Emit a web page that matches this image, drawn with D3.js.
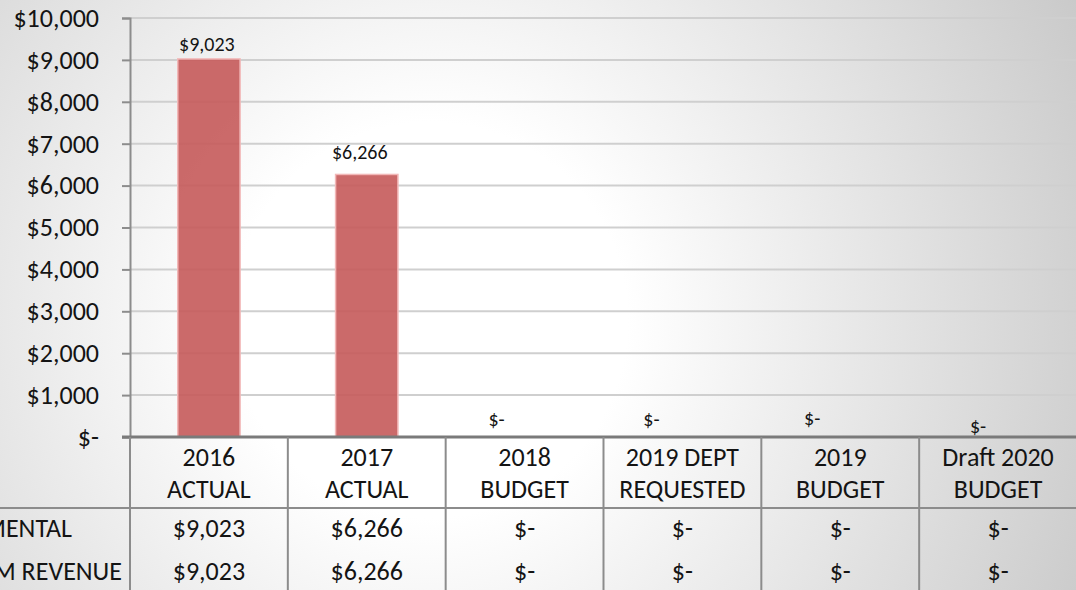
<!DOCTYPE html>
<html>
<head>
<meta charset="utf-8">
<script src="https://cdn.jsdelivr.net/npm/d3@7"></script>
<style>
  body { margin: 0; overflow: hidden; }
  text { font-family: Carlito, "Open Sans", sans-serif; fill: #141414; }
</style>
</head>
<body>
<div id="chart"></div>
<script>
// chart data
const categories = ["2016 ACTUAL", "2017 ACTUAL", "2018 BUDGET", "2019 DEPT REQUESTED", "2019 BUDGET", "Draft 2020 BUDGET"];
const headerLines = [["2016", "ACTUAL"], ["2017", "ACTUAL"], ["2018", "BUDGET"], ["2019 DEPT", "REQUESTED"], ["2019", "BUDGET"], ["Draft 2020", "BUDGET"]];
const intergov = [9023, 6266, 0, 0, 0, 0];
const totalRevenue = [9023, 6266, 0, 0, 0, 0];
const rowLabels = ["INTERGOVERNMENTAL", "TOTAL PROGRAM REVENUE"];
const yTicks = [0, 1000, 2000, 3000, 4000, 5000, 6000, 7000, 8000, 9000, 10000];

// little nudges for the value labels, the way excel put them
const labelNudge = [[-2, 0], [-7, -7], [-28, -3], [-31, -3], [-28, -4], [-20, 4]];

const width = 1076;
const height = 590;
const margin = {left: 130, top: 18, right: -1, bottom: 153};
const plotBottom = height - margin.bottom;
const fontFam = 'Carlito, "Open Sans", sans-serif';
const bigFont = 26;

const money = v => v === 0 ? "$-" : "$" + d3.format(",")(v);

const svg = d3.select("#chart")
    .append("svg")
    .attr("width", width)
    .attr("height", height);

// soft radial background
const grad = svg.append("defs").append("radialGradient")
    .attr("id", "bg")
    .attr("gradientUnits", "userSpaceOnUse")
    .attr("cx", 430).attr("cy", 320).attr("r", 760);
grad.append("stop").attr("offset", 0.26).attr("stop-color", "#ffffff");
grad.append("stop").attr("offset", 1).attr("stop-color", "#c6c6c6");

svg.append("rect")
    .attr("width", width)
    .attr("height", height)
    .attr("fill", "url(#bg)");

const x = d3.scaleBand()
    .domain(categories)
    .range([margin.left, width - margin.right])
    .paddingInner(0.605)
    .paddingOuter(0.3025);

const y = d3.scaleLinear()
    .domain([0, 10000])
    .range([plotBottom, margin.top]);

// gridlines
svg.append("g")
    .selectAll("line")
    .data(yTicks.filter(t => t > 0))
    .enter().append("line")
    .attr("x1", margin.left)
    .attr("x2", width)
    .attr("y1", d => y(d))
    .attr("y2", d => y(d))
    .attr("stroke", "#cfcfcf")
    .attr("stroke-width", 2);

// y axis
const yAxis = svg.append("g")
    .attr("transform", `translate(${margin.left},0)`)
    .call(d3.axisLeft(y).tickValues(yTicks).tickFormat(money).tickSize(8).tickPadding(23));
yAxis.select(".domain").attr("stroke", "#8c8c8c").attr("stroke-width", 2);
yAxis.selectAll(".tick line").attr("stroke", "#8c8c8c").attr("stroke-width", 2);
yAxis.selectAll(".tick text")
    .attr("font-size", bigFont)
    .attr("font-family", fontFam)
    .attr("fill", "#141414");

// bars
svg.append("g")
    .selectAll("rect")
    .data(intergov)
    .enter().append("rect")
    .attr("x", (d, i) => x(categories[i]))
    .attr("width", x.bandwidth())
    .attr("y", d => y(d))
    .attr("height", d => plotBottom - y(d))
    .attr("fill", "#c55a5a")
    .attr("fill-opacity", 0.9)
    .attr("stroke", "#f2b8b8")
    .attr("stroke-width", 1.5);

// value labels
svg.append("g")
    .selectAll("text")
    .data(intergov)
    .enter().append("text")
    .attr("x", (d, i) => x(categories[i]) + x.bandwidth() / 2 + labelNudge[i][0])
    .attr("y", (d, i) => y(d) - 8 + labelNudge[i][1])
    .attr("text-anchor", "middle")
    .attr("font-size", 20)
    .text(money);

// data table
const step = x.step();
const table = svg.append("g");

// baseline
table.append("line")
    .attr("x1", margin.left - 8).attr("x2", width)
    .attr("y1", plotBottom).attr("y2", plotBottom)
    .attr("stroke", "#7a7a7a").attr("stroke-width", 3);

const headerBottom = plotBottom + 71;
table.append("line")
    .attr("x1", 0).attr("x2", width)
    .attr("y1", headerBottom).attr("y2", headerBottom)
    .attr("stroke", "#8c8c8c").attr("stroke-width", 2);

table.selectAll(".col")
    .data(d3.range(categories.length + 1))
    .enter().append("line")
    .attr("x1", i => margin.left + i * step)
    .attr("x2", i => margin.left + i * step)
    .attr("y1", plotBottom)
    .attr("y2", height)
    .attr("stroke", "#8c8c8c")
    .attr("stroke-width", 2);

// header text
const head = table.selectAll(".head")
    .data(headerLines)
    .enter().append("text")
    .attr("text-anchor", "middle")
    .attr("font-size", bigFont);
head.each(function(lines, i) {
    const cx = x(categories[i]) + x.bandwidth() / 2;
    d3.select(this).selectAll("tspan")
        .data(lines)
        .enter().append("tspan")
        .attr("x", cx)
        .attr("y", (d, j) => plotBottom + 29 + j * 32)
        .text(d => d);
});

// rows
const rows = [intergov, totalRevenue];
const rowY = [headerBottom + 29, headerBottom + 72];
const rowLabelEnd = [72, 122];
rows.forEach((vals, r) => {
    table.append("text")
        .attr("x", rowLabelEnd[r])
        .attr("y", rowY[r])
        .attr("text-anchor", "end")
        .attr("font-size", bigFont)
        .text(rowLabels[r]);
    table.selectAll(".row" + r)
        .data(vals)
        .enter().append("text")
        .attr("x", (d, i) => x(categories[i]) + x.bandwidth() / 2)
        .attr("y", rowY[r])
        .attr("text-anchor", "middle")
        .attr("font-size", bigFont)
        .text(money);
});
</script>
</body>
</html>
